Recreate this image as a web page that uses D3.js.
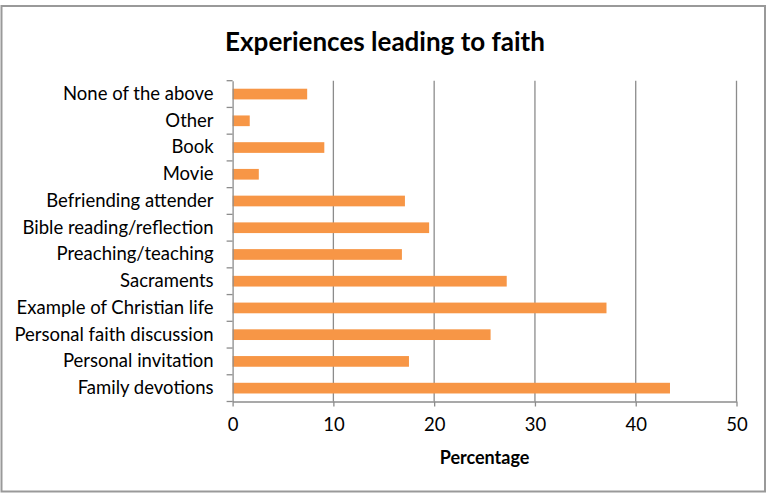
<!DOCTYPE html>
<html>
<head>
<meta charset="utf-8">
<script src="https://cdn.jsdelivr.net/npm/d3@7"></script>
<style>
	body { margin: 0; background: #fff; }
	svg text { font-family: Lato, "Open Sans", sans-serif; fill: #000; }
</style>
</head>
<body>
<div id="chart"></div>
<script>
// data, top to bottom as drawn
const categories = [
	"None of the above",
	"Other",
	"Book",
	"Movie",
	"Befriending attender",
	"Bible reading/reflection",
	"Preaching/teaching",
	"Sacraments",
	"Example of Christian life",
	"Personal faith discussion",
	"Personal invitation",
	"Family devotions"
];
const percentages = [7.4, 1.7, 9.1, 2.6, 17.1, 19.5, 16.8, 27.2, 37.1, 25.6, 17.5, 43.4];
const xTicks = [0, 10, 20, 30, 40, 50];

const title = "Experiences leading to faith";
const xTitle = "Percentage";

const W = 770, H = 496;
const margin = { top: 80.7, right: 33.5, bottom: 94.5, left: 232.6 };
const width = W - margin.left - margin.right,
	height = H - margin.top - margin.bottom;

const svg = d3.select("#chart")
	.append("svg")
	.attr("width", W)
	.attr("height", H);

// outer frame
svg.append("rect")
	.attr("x", 1.5)
	.attr("y", 6)
	.attr("width", 763.5)
	.attr("height", 485.5)
	.attr("fill", "#fff")
	.attr("stroke", "#999")
	.attr("stroke-width", 2);

svg.append("text")
	.attr("x", 385)
	.attr("y", 51)
	.attr("text-anchor", "middle")
	.attr("font-size", "26px")
	.attr("font-weight", "bold")
	.text(title);

const g = svg.append("g")
	.attr("transform", `translate(${margin.left}, ${margin.top})`);

const x = d3.scaleLinear()
	.domain([0, 50])
	.range([0, width]);

const y = d3.scaleBand()
	.domain(categories)
	.range([0, height])
	.paddingInner(0.6)
	.paddingOuter(0.3);

// gridlines
g.append("g")
	.selectAll("line")
	.data(xTicks.slice(1))
	.join("line")
	.attr("x1", d => x(d))
	.attr("x2", d => x(d))
	.attr("y1", 0)
	.attr("y2", height)
	.attr("stroke", "#8c8c8c")
	.attr("stroke-width", 1.3);

// bars
g.append("g")
	.selectAll("rect")
	.data(categories)
	.join("rect")
	.attr("x", x(0))
	.attr("y", d => y(d))
	.attr("width", (d, i) => x(percentages[i]) - x(0))
	.attr("height", y.bandwidth())
	.attr("fill", "#f79646");

// x axis
const xAxis = g.append("g")
	.attr("transform", `translate(0, ${height})`)
	.call(d3.axisBottom(x).tickValues(xTicks).tickSize(5).tickPadding(11).tickSizeOuter(0));
xAxis.select(".domain").attr("stroke", "#8c8c8c").attr("stroke-width", 1.3);
xAxis.selectAll(".tick line").attr("stroke", "#8c8c8c").attr("stroke-width", 1.3);
xAxis.selectAll("text")
	.attr("font-size", "18.5px")
	.attr("fill", "#000")
	.attr("font-family", null);

// y axis: ticks on band boundaries
const yAxis = g.append("g")
	.call(d3.axisLeft(y).tickSize(0).tickPadding(19));
yAxis.select(".domain").attr("stroke", "#8c8c8c").attr("stroke-width", 1.3);
yAxis.selectAll("text")
	.attr("font-size", "18.5px")
	.attr("fill", "#000")
	.attr("font-family", null);

const step = height / categories.length;
g.append("g")
	.selectAll("line")
	.data(d3.range(categories.length + 1))
	.join("line")
	.attr("x1", -6)
	.attr("x2", 0)
	.attr("y1", i => i * step)
	.attr("y2", i => i * step)
	.attr("stroke", "#8c8c8c")
	.attr("stroke-width", 1.3);

svg.append("text")
	.attr("x", margin.left + width / 2)
	.attr("y", 464)
	.attr("text-anchor", "middle")
	.attr("font-size", "18px")
	.attr("font-weight", "bold")
	.text(xTitle);
</script>
</body>
</html>
